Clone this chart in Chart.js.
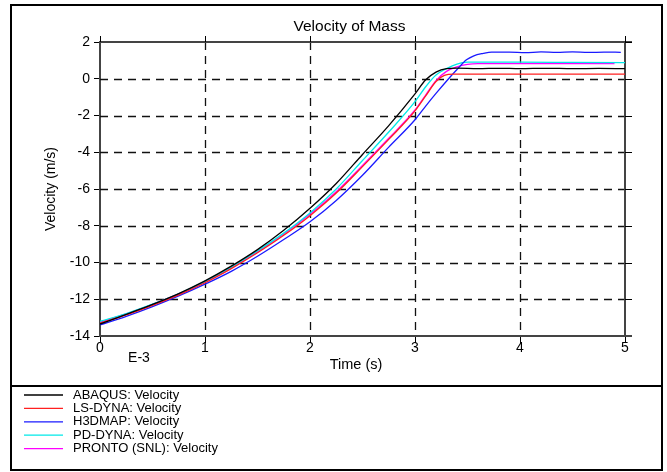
<!DOCTYPE html>
<html>
<head>
<meta charset="utf-8">
<title>Velocity of Mass</title>
<script src="https://cdn.jsdelivr.net/npm/chart.js@4/dist/chart.umd.min.js"></script>
<style>
  html, body { margin: 0; padding: 0; background: #fff; }
  #wrap { width: 667px; height: 472px; }
</style>
</head>
<body>
<div id="wrap"><canvas id="chart" width="667" height="472"></canvas></div>
<script>
// Time (s, ×1E-3) and velocity (m/s) samples for each code
const abaqusTime = [0, 0.25, 0.5, 0.75, 1.0, 1.25, 1.5, 1.75, 2.0, 2.25, 2.5, 2.75, 3.0, 3.1, 3.2, 3.3, 3.4, 3.6, 3.8, 4.0, 4.25, 4.5, 4.75, 5.0];
const abaqusVel  = [-13.35, -12.82, -12.28, -11.69, -11.0, -10.2, -9.3, -8.25, -7.05, -5.7, -4.12, -2.55, -0.82, -0.07, 0.36, 0.55, 0.58, 0.55, 0.57, 0.55, 0.57, 0.55, 0.56, 0.55];

const lsdynaTime = [0, 0.25, 0.5, 0.75, 1.0, 1.25, 1.5, 1.75, 2.0, 2.25, 2.5, 2.75, 3.0, 3.1, 3.2, 3.28, 3.37, 3.6, 4.0, 4.5, 5.0];
const lsdynaVel  = [-13.3, -12.85, -12.33, -11.76, -11.1, -10.33, -9.47, -8.52, -7.45, -6.22, -4.78, -3.3, -1.75, -0.95, -0.15, 0.18, 0.25, 0.25, 0.25, 0.25, 0.25];

const h3dmapTime = [0, 0.25, 0.5, 0.75, 1.0, 1.25, 1.5, 1.75, 2.0, 2.25, 2.5, 2.75, 3.0, 3.1, 3.2, 3.32, 3.4, 3.49, 3.56, 3.65, 3.73, 3.9, 4.05, 4.2, 4.35, 4.5, 4.65, 4.8, 4.96];
const h3dmapVel  = [-13.4, -12.93, -12.4, -11.82, -11.18, -10.48, -9.66, -8.75, -7.78, -6.62, -5.25, -3.72, -2.23, -1.5, -0.8, 0.0, 0.5, 1.03, 1.25, 1.38, 1.45, 1.45, 1.42, 1.46, 1.43, 1.46, 1.43, 1.45, 1.44];

const pddynaTime = [0, 0.25, 0.5, 0.75, 1.0, 1.25, 1.5, 1.75, 2.0, 2.25, 2.5, 2.75, 3.0, 3.1, 3.2, 3.3, 3.4, 3.5, 3.6, 4.0, 4.5, 5.0];
const pddynaVel  = [-13.2, -12.78, -12.27, -11.7, -11.03, -10.25, -9.37, -8.4, -7.3, -6.0, -4.45, -2.9, -1.25, -0.45, 0.2, 0.55, 0.8, 0.9, 0.91, 0.9, 0.89, 0.88];

const prontoTime = [0, 0.25, 0.5, 0.75, 1.0, 1.25, 1.5, 1.75, 2.0, 2.25, 2.5, 2.75, 3.0, 3.1, 3.2, 3.3, 3.4, 3.5, 3.6, 4.0, 4.5, 4.9];
const prontoVel  = [-13.25, -12.8, -12.28, -11.71, -11.06, -10.28, -9.42, -8.46, -7.38, -6.15, -4.72, -3.24, -1.7, -0.9, -0.1, 0.4, 0.65, 0.78, 0.82, 0.82, 0.82, 0.82];

const seriesNames  = ['ABAQUS: Velocity', 'LS-DYNA: Velocity', 'H3DMAP: Velocity', 'PD-DYNA: Velocity', 'PRONTO (SNL): Velocity'];
const seriesColors = ['#000000', '#ff2020', '#1a1aff', '#00e8e8', '#ff00ff'];
const seriesTimes  = [abaqusTime, lsdynaTime, h3dmapTime, pddynaTime, prontoTime];
const seriesVels   = [abaqusVel, lsdynaVel, h3dmapVel, pddynaVel, prontoVel];

const FONT = '"Liberation Sans", Arial, Helvetica, sans-serif';

const datasets = seriesNames.map((name, i) => ({
  label: name,
  data: seriesTimes[i].map((t, k) => ({ x: t, y: seriesVels[i][k] })),
  borderColor: seriesColors[i],
  borderWidth: 1.3,
  pointRadius: 0,
  fill: false,
  cubicInterpolationMode: 'monotone'
}));

// Frame, dashed grid, top/right axes, titles and the boxed legend
const decor = {
  id: 'decor',
  beforeDatasetsDraw(chart) {
    const { ctx, chartArea: a, scales: { x, y } } = chart;
    ctx.save();
    // dashed interior grid
    ctx.strokeStyle = '#111';
    ctx.lineWidth = 1.3;
    ctx.setLineDash([8, 6]);
    x.ticks.forEach(t => {
      if (t.value === x.min || t.value === x.max) return;
      const px = Math.round(x.getPixelForValue(t.value)) + 0.5;
      ctx.beginPath(); ctx.moveTo(px, a.top); ctx.lineTo(px, a.bottom); ctx.stroke();
    });
    y.ticks.forEach(t => {
      if (t.value === y.min || t.value === y.max) return;
      const py = Math.round(y.getPixelForValue(t.value)) + 0.5;
      ctx.beginPath(); ctx.moveTo(a.left, py); ctx.lineTo(a.right, py); ctx.stroke();
    });
    ctx.setLineDash([]);
    // top and right axis lines with outward ticks
    ctx.strokeStyle = '#444';
    ctx.lineWidth = 2;
    ctx.beginPath(); ctx.moveTo(a.left, a.top); ctx.lineTo(a.right + 7, a.top); ctx.stroke();
    ctx.beginPath(); ctx.moveTo(a.right, a.top); ctx.lineTo(a.right, a.bottom); ctx.stroke();
    ctx.strokeStyle = '#000';
    ctx.lineWidth = 1;
    x.ticks.forEach(t => {
      const px = Math.round(x.getPixelForValue(t.value)) + 0.5;
      ctx.beginPath(); ctx.moveTo(px, a.top); ctx.lineTo(px, a.top - 6); ctx.stroke();
    });
    y.ticks.forEach(t => {
      const py = Math.round(y.getPixelForValue(t.value)) + 0.5;
      ctx.beginPath(); ctx.moveTo(a.right, py); ctx.lineTo(a.right + 7, py); ctx.stroke();
    });
    ctx.strokeStyle = '#444';
    ctx.lineWidth = 2;
    ctx.beginPath(); ctx.moveTo(a.left, a.bottom); ctx.lineTo(a.right + 7, a.bottom); ctx.stroke();
    ctx.restore();
  },
  afterDraw(chart) {
    const { ctx } = chart;
    ctx.save();
    // outer frame and legend separator
    ctx.strokeStyle = '#000';
    ctx.lineWidth = 2;
    ctx.strokeRect(11, 5, 651, 465);
    ctx.beginPath(); ctx.moveTo(11, 386); ctx.lineTo(662, 386); ctx.stroke();

    ctx.fillStyle = '#000';
    ctx.textBaseline = 'alphabetic';
    ctx.textAlign = 'center';
    ctx.font = '15.5px ' + FONT;
    ctx.fillText('Velocity of Mass', 349.5, 30.5);
    ctx.font = '14.5px ' + FONT;
    ctx.fillText('Time (s)', 356, 369);
    ctx.font = '14px ' + FONT;
    ctx.fillText('E-3', 139, 361.5);

    ctx.save();
    ctx.translate(55, 189);
    ctx.rotate(-Math.PI / 2);
    ctx.font = '14px ' + FONT;
    ctx.fillText('Velocity (m/s)', 0, 0);
    ctx.restore();

    // legend entries
    ctx.textAlign = 'left';
    ctx.textBaseline = 'middle';
    ctx.font = '13px ' + FONT;
    chart.data.datasets.forEach((ds, i) => {
      const ly = 395 + i * 13.4;
      ctx.strokeStyle = ds.borderColor;
      ctx.lineWidth = 1.3;
      ctx.beginPath(); ctx.moveTo(24, ly); ctx.lineTo(63, ly); ctx.stroke();
      ctx.fillStyle = '#000';
      ctx.fillText(ds.label, 73, ly);
    });
    ctx.restore();
  }
};

new Chart(document.getElementById('chart'), {
  type: 'line',
  data: { datasets },
  plugins: [decor],
  options: {
    responsive: false,
    animation: false,
    layout: { padding: { top: 42, right: 42, left: 0, bottom: 0 } },
    plugins: { legend: { display: false }, title: { display: false }, tooltip: { enabled: false } },
    scales: {
      x: {
        type: 'linear', min: 0, max: 5,
        afterFit(scale) { scale.height = 136; },
        ticks: { stepSize: 1, color: '#000', padding: -2, font: { family: FONT, size: 14, lineHeight: 1 }, maxRotation: 0 },
        grid: { drawOnChartArea: false, drawTicks: true, tickLength: 7, color: '#000', lineWidth: 1 },
        border: { display: true, color: '#444', width: 2 }
      },
      y: {
        type: 'linear', min: -14, max: 2,
        afterFit(scale) { scale.width = 100; },
        ticks: { stepSize: 2, color: '#000', padding: 4, font: { family: FONT, size: 14 } },
        grid: { drawOnChartArea: false, drawTicks: true, tickLength: 6, color: '#000', lineWidth: 1 },
        border: { display: true, color: '#444', width: 2 }
      }
    }
  }
});
</script>
</body>
</html>
